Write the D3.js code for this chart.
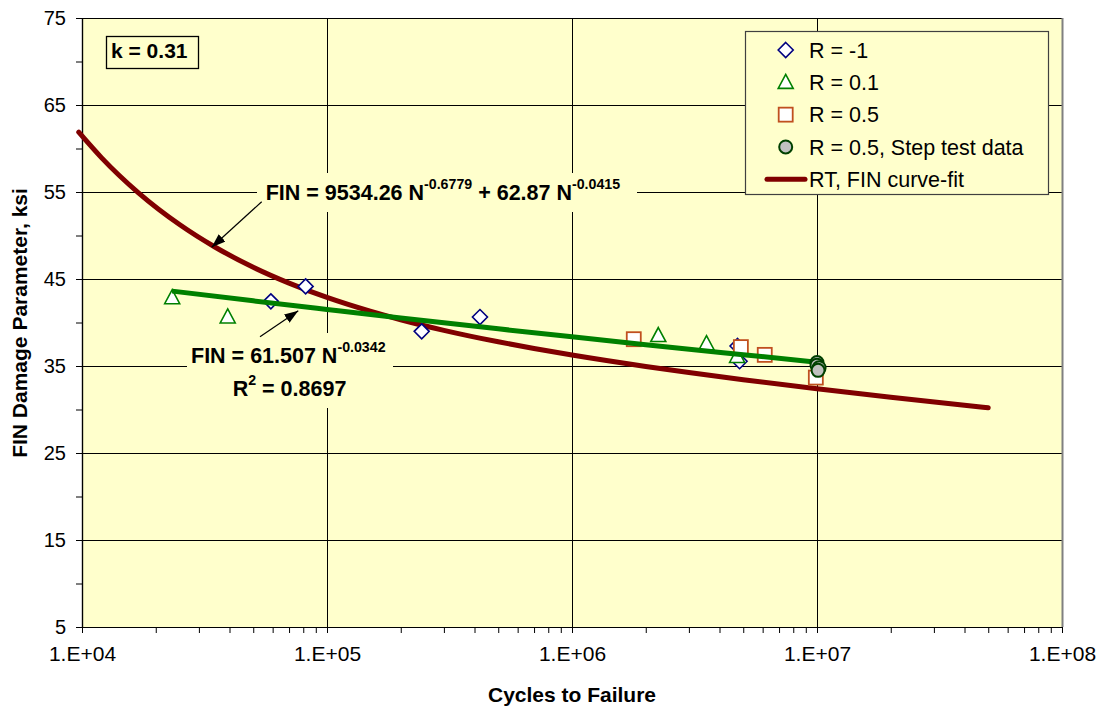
<!DOCTYPE html>
<html>
<head>
<meta charset="utf-8">
<script src="https://cdn.jsdelivr.net/npm/d3@7"></script>
<style>
  body { margin: 0; background: #ffffff; }
  svg text { font-family: "Liberation Sans", Arial, sans-serif; fill: #000; }
</style>
</head>
<body>
<svg id="chart" width="1102" height="709"></svg>
<script>
// ---- test data: cycles to failure vs. FIN damage parameter (ksi) ----
const rNeg1Cycles = [59000, 81800, 243500, 421000, 4.74e6, 4.83e6];
const rNeg1Fin    = [42.43, 44.15, 38.98, 40.63, 37.3, 35.55];

const r01Cycles = [23340, 39330, 2.25e6, 3.54e6, 4.72e6];
const r01Fin    = [42.85, 40.64, 38.5, 37.56, 36.1];

const r05Cycles = [1.787e6, 4.89e6, 6.12e6, 9.89e6];
const r05Fin    = [38.08, 37.17, 36.28, 33.67];

const stepCycles = [1.0e7, 1.0e7, 1.02e7, 1.01e7];
const stepFin    = [35.4, 35.1, 34.8, 34.5];

// RT curve-fit, tabulated: FIN = 9534.26 N^-0.6779 + 62.87 N^-0.0415
const fitCycles = [9700, 12000, 17000, 25000, 35000, 50000, 70000, 1e5, 1.5e5, 2e5,
                   3e5, 5e5, 7e5, 1e6, 2e6, 3e6, 5e6, 1e7, 2e7, 5e7];
const fitFin    = [61.87, 58.95, 54.90, 51.26, 48.65, 46.35, 44.53, 42.88, 41.30, 40.32,
                   39.10, 37.78, 37.01, 36.26, 34.95, 34.25, 33.42, 32.38, 31.41, 30.19];

// Power trendline, tabulated: FIN = 61.507 N^-0.0342
const trendCycles = [23340, 5e4, 1e5, 2e5, 5e5, 1e6, 2e6, 5e6, 1e7];
const trendFin    = [43.61, 42.49, 41.50, 40.52, 39.27, 38.35, 37.45, 36.30, 35.44];

const yTicks = [5, 15, 25, 35, 45, 55, 65, 75];
const yMinorTicks = [10, 20, 30, 40, 50, 60, 70];
const xTicks = [1e4, 1e5, 1e6, 1e7, 1e8];
const xTickLabels = ["1.E+04", "1.E+05", "1.E+06", "1.E+07", "1.E+08"];

const legendLabels = ["R = -1", "R = 0.1", "R = 0.5", "R = 0.5, Step test data", "RT, FIN curve-fit"];

// ---- layout ----
const plot = { left: 82, right: 1062, top: 18, bottom: 627 };
const PLOT_BG = "#FFFFCC";
const C_DIAMOND = "#000080", C_TRI = "#008000", C_SQ = "#C0501F";
const C_CIRC_FILL = "#C0C0C0", C_CIRC_STROKE = "#004000";
const C_FIT = "#800000", C_TREND = "#008000";

const svg = d3.select("#chart");

const x = d3.scaleLog().domain([1e4, 1e8]).range([plot.left, plot.right]);
const y = d3.scaleLinear().domain([5, 75]).range([plot.bottom, plot.top]);

// plot background
svg.append("rect")
  .attr("x", plot.left).attr("y", plot.top)
  .attr("width", plot.right - plot.left).attr("height", plot.bottom - plot.top)
  .attr("fill", PLOT_BG);

// gridlines
const grid = svg.append("g").attr("stroke", "#000").attr("stroke-width", 1).attr("shape-rendering", "crispEdges");
grid.selectAll("line.h").data(yTicks.filter(v => v > 5)).join("line")
  .attr("x1", plot.left).attr("x2", plot.right)
  .attr("y1", d => Math.round(y(d)) + 0.5).attr("y2", d => Math.round(y(d)) + 0.5);
grid.selectAll("line.v").data(xTicks.filter(v => v > 1e4 && v < 1e8)).join("line")
  .attr("y1", plot.top).attr("y2", plot.bottom)
  .attr("x1", d => Math.round(x(d)) + 0.5).attr("x2", d => Math.round(x(d)) + 0.5);

// plot border (right side grey)
svg.append("line")
  .attr("x1", plot.right + 0.5).attr("x2", plot.right + 0.5)
  .attr("y1", plot.top).attr("y2", plot.bottom)
  .attr("stroke", "#808080").attr("stroke-width", 2);

// axes
const yAxis = d3.axisLeft(y).tickValues(yTicks).tickSize(6).tickSizeOuter(0).tickPadding(10).tickFormat(d3.format("d"));
const yAxisMinor = d3.axisLeft(y).tickValues(yMinorTicks).tickSize(6).tickSizeOuter(0).tickFormat("");
const xAxis = d3.axisBottom(x).tickValues(xTicks).tickSize(6).tickSizeOuter(0).tickPadding(13)
  .tickFormat((d, i) => xTickLabels[i]);
const xMinorVals = [];
for (let dec = 1e4; dec < 1e8; dec *= 10) for (let m = 2; m <= 9; m++) xMinorVals.push(dec * m);
const xAxisMinor = d3.axisBottom(x).tickValues(xMinorVals).tickSize(6).tickSizeOuter(0).tickFormat("");

function styleAxis(g, fs) {
  g.select(".domain").attr("stroke", "#000").attr("stroke-width", 1.2);
  g.selectAll(".tick line").attr("stroke", "#000").attr("stroke-width", 1);
  g.selectAll(".tick text").attr("font-size", fs).attr("font-family", '"Liberation Sans", Arial, sans-serif').attr("fill", "#000");
}
svg.append("g").attr("transform", `translate(${plot.left},0)`).call(yAxisMinor).call(g => styleAxis(g, 20));
svg.append("g").attr("transform", `translate(${plot.left},0)`).call(yAxis).call(g => styleAxis(g, 20));
svg.append("g").attr("transform", `translate(0,${plot.bottom})`).call(xAxisMinor).call(g => styleAxis(g, 21));
svg.append("g").attr("transform", `translate(0,${plot.bottom})`).call(xAxis).call(g => styleAxis(g, 21));

// axis titles
svg.append("text").attr("x", (plot.left + plot.right) / 2).attr("y", 702)
  .attr("text-anchor", "middle").attr("font-size", 21).attr("font-weight", "bold")
  .text("Cycles to Failure");
svg.append("text").attr("transform", "translate(27,323) rotate(-90)")
  .attr("text-anchor", "middle").attr("font-size", 21).attr("font-weight", "bold")
  .text("FIN Damage Parameter, ksi");

// annotation boxes (hide the gridlines behind the equation text)
svg.append("rect").attr("x", 257).attr("y", 173).attr("width", 380).attr("height", 39).attr("fill", PLOT_BG);
svg.append("rect").attr("x", 187).attr("y", 333).attr("width", 206).attr("height", 75).attr("fill", PLOT_BG);

// k box
svg.append("rect").attr("x", 106.5).attr("y", 36.5).attr("width", 92).attr("height", 32)
  .attr("fill", PLOT_BG).attr("stroke", "#000").attr("stroke-width", 1.3);
svg.append("text").attr("x", 111).attr("y", 58).attr("font-size", 21).attr("font-weight", "bold").text("k = 0.31");

// marker shapes
const sym = {
  diamond: (g, px, py) => g.append("path")
    .attr("d", `M${px},${py - 7.5}L${px + 7.5},${py}L${px},${py + 7.5}L${px - 7.5},${py}Z`)
    .attr("fill", "#fff").attr("stroke", C_DIAMOND).attr("stroke-width", 1.6),
  triangle: (g, px, py) => g.append("path")
    .attr("d", `M${px},${py - 8}L${px + 7.5},${py + 6}L${px - 7.5},${py + 6}Z`)
    .attr("fill", "#fff").attr("stroke", C_TRI).attr("stroke-width", 1.6),
  square: (g, px, py) => g.append("rect")
    .attr("x", px - 7).attr("y", py - 7).attr("width", 14).attr("height", 14)
    .attr("fill", "#fff").attr("stroke", C_SQ).attr("stroke-width", 1.8),
  circle: (g, px, py) => g.append("circle")
    .attr("cx", px).attr("cy", py).attr("r", 6.5)
    .attr("fill", C_CIRC_FILL).attr("stroke", C_CIRC_STROKE).attr("stroke-width", 2)
};

function scatter(cycles, fin, kind) {
  const g = svg.append("g");
  cycles.forEach((n, i) => sym[kind](g, x(n), y(fin[i])));
}

const lineGen = d3.line().x(d => x(d[0])).y(d => y(d[1])).curve(d3.curveMonotoneX);

// RT curve-fit
svg.append("path").datum(fitCycles.map((n, i) => [n, fitFin[i]]))
  .attr("d", lineGen).attr("fill", "none").attr("stroke", C_FIT)
  .attr("stroke-width", 5).attr("stroke-linecap", "round").attr("stroke-linejoin", "round");

scatter(rNeg1Cycles, rNeg1Fin, "diamond");
scatter(r01Cycles, r01Fin, "triangle");
scatter(r05Cycles, r05Fin, "square");

// power trendline
svg.append("path").datum(trendCycles.map((n, i) => [n, trendFin[i]]))
  .attr("d", lineGen).attr("fill", "none").attr("stroke", C_TREND)
  .attr("stroke-width", 5).attr("stroke-linecap", "butt");

scatter(stepCycles, stepFin, "circle");

// arrows
svg.append("defs").append("marker")
  .attr("id", "arrowhead").attr("markerUnits", "userSpaceOnUse")
  .attr("viewBox", "0 0 14 10").attr("refX", 14).attr("refY", 5)
  .attr("markerWidth", 14).attr("markerHeight", 10).attr("orient", "auto")
  .append("path").attr("d", "M0,0L14,5L0,10Z").attr("fill", "#000");

svg.append("line").attr("x1", 261.7).attr("y1", 201.7).attr("x2", 211.7).attr("y2", 247.3)
  .attr("stroke", "#000").attr("stroke-width", 1.2).attr("marker-end", "url(#arrowhead)");
svg.append("line").attr("x1", 260).attr("y1", 336.7).attr("x2", 298.3).attr("y2", 310.7)
  .attr("stroke", "#000").attr("stroke-width", 1.2).attr("marker-end", "url(#arrowhead)");

// equation labels
const EQ_FS = 21.5, SUP_FS = 14.2, SUP_RISE = 11;
const eq1 = svg.append("text").attr("x", 265.7).attr("y", 199.5)
  .attr("font-size", EQ_FS).attr("font-weight", "bold");
eq1.append("tspan").text("FIN = 9534.26 N");
eq1.append("tspan").attr("dy", -SUP_RISE).attr("font-size", SUP_FS).text("-0.6779");
eq1.append("tspan").attr("dy", SUP_RISE).text(" + 62.87 N");
eq1.append("tspan").attr("dy", -SUP_RISE).attr("font-size", SUP_FS).text("-0.0415");

const eq2 = svg.append("text").attr("x", 191).attr("y", 363.3)
  .attr("font-size", EQ_FS).attr("font-weight", "bold");
eq2.append("tspan").text("FIN = 61.507 N");
eq2.append("tspan").attr("dy", -SUP_RISE).attr("font-size", SUP_FS).text("-0.0342");

const eq3 = svg.append("text").attr("x", 232.7).attr("y", 396)
  .attr("font-size", EQ_FS).attr("font-weight", "bold");
eq3.append("tspan").text("R");
eq3.append("tspan").attr("dy", -SUP_RISE).attr("font-size", SUP_FS).text("2");
eq3.append("tspan").attr("dy", SUP_RISE).text(" = 0.8697");

// legend
const lg = svg.append("g");
lg.append("rect").attr("x", 745.5).attr("y", 31.5).attr("width", 303).attr("height", 163)
  .attr("fill", PLOT_BG).attr("stroke", "#404040").attr("stroke-width", 1.2);
const rowY = d3.scalePoint().domain(d3.range(legendLabels.length)).range([50, 179.3]);
const legendKinds = ["diamond", "triangle", "square", "circle", "line"];
legendKinds.forEach((k, i) => {
  const cy = rowY(i);
  if (k === "line") {
    lg.append("line").attr("x1", 767).attr("x2", 805).attr("y1", cy).attr("y2", cy)
      .attr("stroke", C_FIT).attr("stroke-width", 5).attr("stroke-linecap", "round");
  } else {
    sym[k](lg, 785.7, cy);
  }
  lg.append("text").attr("x", 809).attr("y", cy).attr("dy", "0.36em")
    .attr("font-size", 21.5).text(legendLabels[i]);
});
</script>
</body>
</html>
